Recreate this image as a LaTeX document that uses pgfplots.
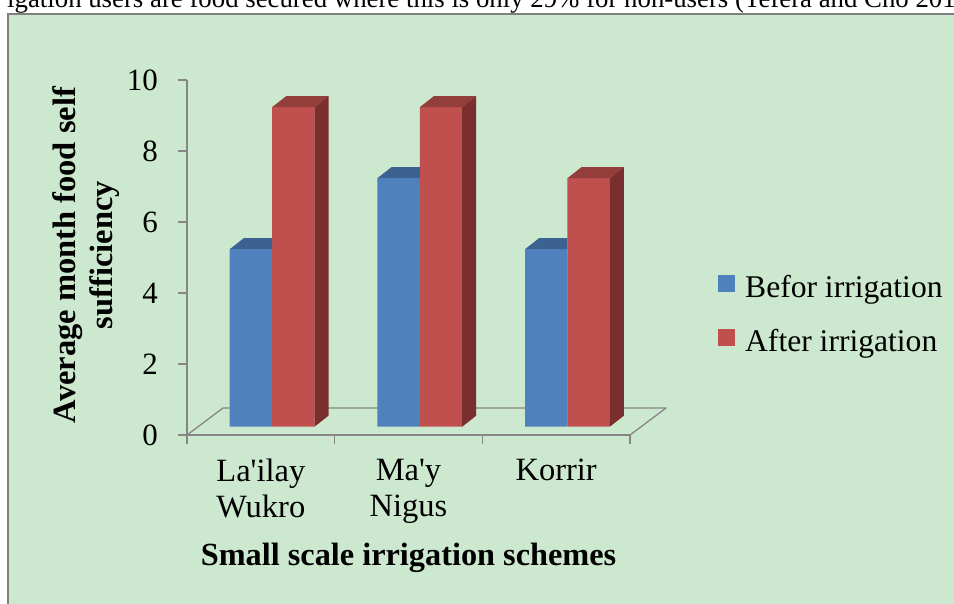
\documentclass[border=0pt]{standalone}
\usepackage{fontspec}
\setmainfont{Liberation Serif}
\usepackage{pgfplots}
\usepackage{pgfplotstable}
\pgfplotsset{compat=1.18}

\definecolor{bggreen}{RGB}{204,232,207}
\definecolor{axisgray}{RGB}{134,134,134}
\definecolor{bordergray}{RGB}{128,128,128}
\definecolor{cBlue}{RGB}{79,129,189}
\definecolor{cBlueTop}{RGB}{60,98,146}
\definecolor{cRed}{RGB}{192,80,77}
\definecolor{cRedTop}{RGB}{148,62,60}
\definecolor{cRedSide}{RGB}{122,47,46}

% 3D faces of a bar; origin = top-right corner of the front face,
% \val = bar value (35.5pt per unit on the y axis)
% blue bars: only the visible part of the top face (the rest is behind the red bar)
\pgfdeclareplotmark{blue3d}{%
  \pgftransformshift{\pgfpoint{0pt}{8.3pt}}%
  \pgfpathmoveto{\pgfpointorigin}%
  \pgfpathlineto{\pgfpoint{0pt}{11pt}}%
  \pgfpathlineto{\pgfpoint{-28.4pt}{11pt}}%
  \pgfpathlineto{\pgfpoint{-42.4pt}{0pt}}%
  \pgfpathclose
  \pgfsetfillcolor{cBlueTop}\pgfusepath{fill}%
}
\pgfdeclareplotmark{red3d}{%
  \pgftransformshift{\pgfpoint{0pt}{8.3pt}}%
  \pgfpathmoveto{\pgfpointorigin}%
  \pgfpathlineto{\pgfpoint{14pt}{11pt}}%
  \pgfpathlineto{\pgfpoint{-28.4pt}{11pt}}%
  \pgfpathlineto{\pgfpoint{-42.4pt}{0pt}}%
  \pgfpathclose
  \pgfsetfillcolor{cRedTop}\pgfusepath{fill}%
  \pgfpathmoveto{\pgfpointorigin}%
  \pgfpathlineto{\pgfpoint{14pt}{11pt}}%
  \pgfpathlineto{\pgfpoint{14pt}{11pt-35.5pt*\val}}%
  \pgfpathlineto{\pgfpoint{0pt}{-35.5pt*\val}}%
  \pgfpathclose
  \pgfsetfillcolor{cRedSide}\pgfusepath{fill}%
}

\pgfplotstableread{
x b r
0 5 9
1 7 9
2 5 7
}\datatable

\newcommand\chartfont{\fontsize{31}{35}\selectfont}

\begin{document}
\begin{tikzpicture}
\useasboundingbox (0,0) rectangle (954pt,603pt);
\clip (0,0) rectangle (954pt,603pt);
\fill[white] (0,0) rectangle (954pt,603pt);
\fill[bggreen] (8pt,-5pt) rectangle (960pt,589pt);
\draw[bordergray, line width=1.6pt] (8pt,-5pt) -- (8pt,589pt) -- (960pt,589pt);
\node[anchor=base west, inner sep=0pt, font=\fontsize{26.8}{30}\selectfont] at (7pt,595.5pt)
  {igation users are food secured where this is only 29\% for non-users (Tefera and Cho 2017)};
\begin{axis}[
  at={(187pt,168pt)}, anchor=south west,
  scale only axis, width=443pt, height=355pt,
  clip=false,
  xmin=-0.5, xmax=2.5, ymin=0, ymax=10,
  axis lines*=left,
  axis line style={draw=axisgray, line width=1.3pt},
  tick style={draw=axisgray, line width=1.3pt},
  major tick length=9pt,
  tick align=outside,
  ytick={0,2,4,6,8,10},
  xtick={-0.5,0.5,1.5,2.5},
  x tick label as interval,
  xticklabels={{La\textquotesingle ilay\\Wukro},{Ma\textquotesingle y\\Nigus},{Korrir}},
  /pgf/number format/assume math mode=true,
  ticklabel style={font=\chartfont},
  yticklabel style={anchor=east, inner sep=0pt, xshift=-20pt},
  xticklabel style={anchor=north, align=center, inner sep=0pt, yshift=-15pt,
    font=\fontsize{32.5}{36}\selectfont},
  every axis y label/.style={at={(axis description cs:-0.227,0.507)}, rotate=90,
    anchor=center, align=center, inner sep=0pt,
    font=\fontsize{32.5}{37}\selectfont\bfseries},
  every axis x label/.style={at={(axis description cs:0.5,-0.3662)},
    anchor=base, inner sep=0pt, font=\fontsize{32.3}{37}\selectfont\bfseries},
  ylabel={Average month food self\\sufficiency},
  xlabel={Small scale irrigation schemes},
  legend style={at={(axis description cs:1.1986,0.4507)}, anchor=north west,
    draw=none, fill=none, inner sep=0pt, outer sep=0pt, row sep=30pt,
    column sep=0pt, font=\fontsize{31.6}{35}\selectfont, nodes={inner sep=0pt}},
  legend cell align=left,
  legend image code/.code={\fill[#1, draw=none] (0pt,-5.5pt) rectangle (17pt,11.5pt); \path (27pt,0pt);},
]
% floor of the 3-D plot area
\addplot[draw=axisgray, line width=1.3pt, line join=round, forget plot]
  coordinates {(-0.5,0) (2.5,0) (2.7438,0.7606) (-0.2562,0.7606) (-0.5,0)};
% Befor irrigation
\addplot[ybar, bar width=0.287, bar shift=-0.067, fill=cBlue, draw=none,
  yshift=8.3pt, forget plot] table[x=x, y=b] {\datatable};
\addplot[only marks, mark=blue3d, forget plot,
  visualization depends on={rawy \as \val}]
  table[x expr=\thisrow{x}+0.0765, y=b] {\datatable};
% After irrigation
\addplot[ybar, bar width=0.287, bar shift=0.220, fill=cRed, draw=none,
  yshift=8.3pt, forget plot] table[x=x, y=r] {\datatable};
\addplot[only marks, mark=red3d, forget plot,
  visualization depends on={rawy \as \val}]
  table[x expr=\thisrow{x}+0.3635, y=r] {\datatable};
\addlegendimage{fill=cBlue}
\addlegendentry{Befor irrigation}
\addlegendimage{fill=cRed}
\addlegendentry{After irrigation}
\end{axis}
\end{tikzpicture}
\end{document}
